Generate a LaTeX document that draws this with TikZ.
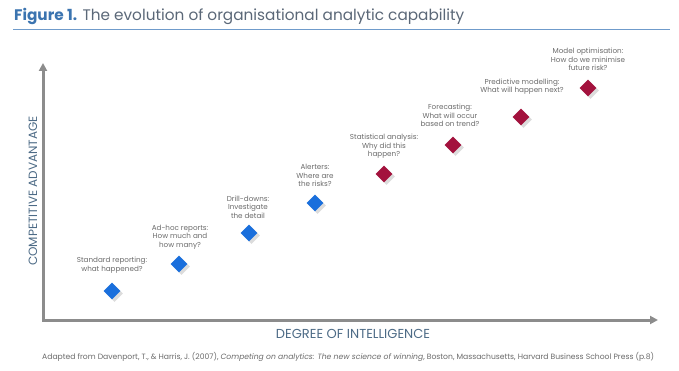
\documentclass[tikz,border=0pt]{standalone}
\usepackage{fontspec}
\setmainfont{Poppins}
\usetikzlibrary{shapes.geometric,arrows.meta,shadows}
\definecolor{blueD}{HTML}{1A6FDC}
\definecolor{redD}{HTML}{A3123D}
\definecolor{axisgray}{HTML}{8C8C8C}
\definecolor{titleblue}{HTML}{3B74B0}
\definecolor{titlegray}{HTML}{5B6878}
\definecolor{labelgray}{HTML}{6B6B6B}
\definecolor{axislabel}{HTML}{4D6B86}
\definecolor{ruleblue}{HTML}{6F9BCB}
\tikzset{
  gem/.style={shape=diamond, minimum width=17pt, minimum height=17pt, inner sep=0pt,
    drop shadow={shadow xshift=2.5pt, shadow yshift=-2.5pt, fill=black!30, opacity=0.45}},
  bluegem/.style={gem, fill=blueD},
  redgem/.style={gem, fill=redD},
  lbl/.style={align=center, inner sep=0pt, text=labelgray, font=\fontsize{7.2}{8.6}\selectfont},
  axisline/.style={draw=axisgray, line width=3pt, {Triangle[length=8pt,width=8pt]}-{Triangle[length=8pt,width=8pt]}},
  axlabel/.style={inner sep=0pt, text=axislabel, font=\fontsize{13}{15}\selectfont},
}
\begin{document}
\begin{tikzpicture}[x=1pt,y=-1pt]
\useasboundingbox[fill=white] (0,0) rectangle (679,371);
% title
\node[anchor=base west, inner sep=0pt, font=\fontsize{15.3}{17}\selectfont] (title) at (14,21)
  {\textcolor{titleblue}{\bfseries Figure 1.} \textcolor{titlegray}{The evolution of organisational analytic capability}};
\coordinate (ruleL) at (13,29.5);
\coordinate (ruleR) at (670,29.5);
\draw[ruleblue, line width=1pt] (ruleL) -- (ruleR);
% axes
\coordinate (ytip) at (43,63);
\coordinate (orig) at (43,320);
\coordinate (xtip) at (658,320);
\draw[axisline] (ytip) -- (orig) -- (xtip);
\node[axlabel, rotate=90, font=\fontsize{12}{14}\selectfont] (ylab) at (33,191) {COMPETITIVE ADVANTAGE};
\node[axlabel] (xlab) at (353,334) {DEGREE OF INTELLIGENCE};
% diamonds
\node[bluegem] (d1) at (112,291) {};
\node[bluegem] (d2) at (179,264) {};
\node[bluegem] (d3) at (249,233) {};
\node[bluegem] (d4) at (315,203) {};
\node[redgem] (d5) at (384,174) {};
\node[redgem] (d6) at (453,145) {};
\node[redgem] (d7) at (521,117) {};
\node[redgem] (d8) at (588,88) {};
% labels
\node[lbl] (l1) at (112,265) {Standard reporting:\\what happened?};
\node[lbl] (l2) at (180,237) {Ad-hoc reports:\\How much and\\how many?};
\node[lbl] (l3) at (248,207) {Drill-downs:\\Investigate\\the detail};
\node[lbl] (l4) at (315,175.5) {Alerters:\\Where are\\the risks?};
\node[lbl] (l5) at (384,146.5) {Statistical analysis:\\Why did this\\happen?};
\node[lbl] (l6) at (450,115.5) {Forecasting:\\What will occur\\based on trend?};
\node[lbl] (l7) at (522,86.5) {Predictive modelling:\\What will happen next?};
\node[lbl] (l8) at (588,59.5) {Model optimisation:\\How do we minimise\\future risk?};
% footnote
\node[anchor=west, inner sep=0pt, text=labelgray, font=\fontsize{7.65}{9}\selectfont] (foot) at (42,357)
  {Adapted from Davenport, T., \& Harris, J. (2007), \textit{Competing on analytics: The new science of winning}, Boston, Massachusetts, Harvard Business School Press (p.8)};
\end{tikzpicture}
\end{document}
